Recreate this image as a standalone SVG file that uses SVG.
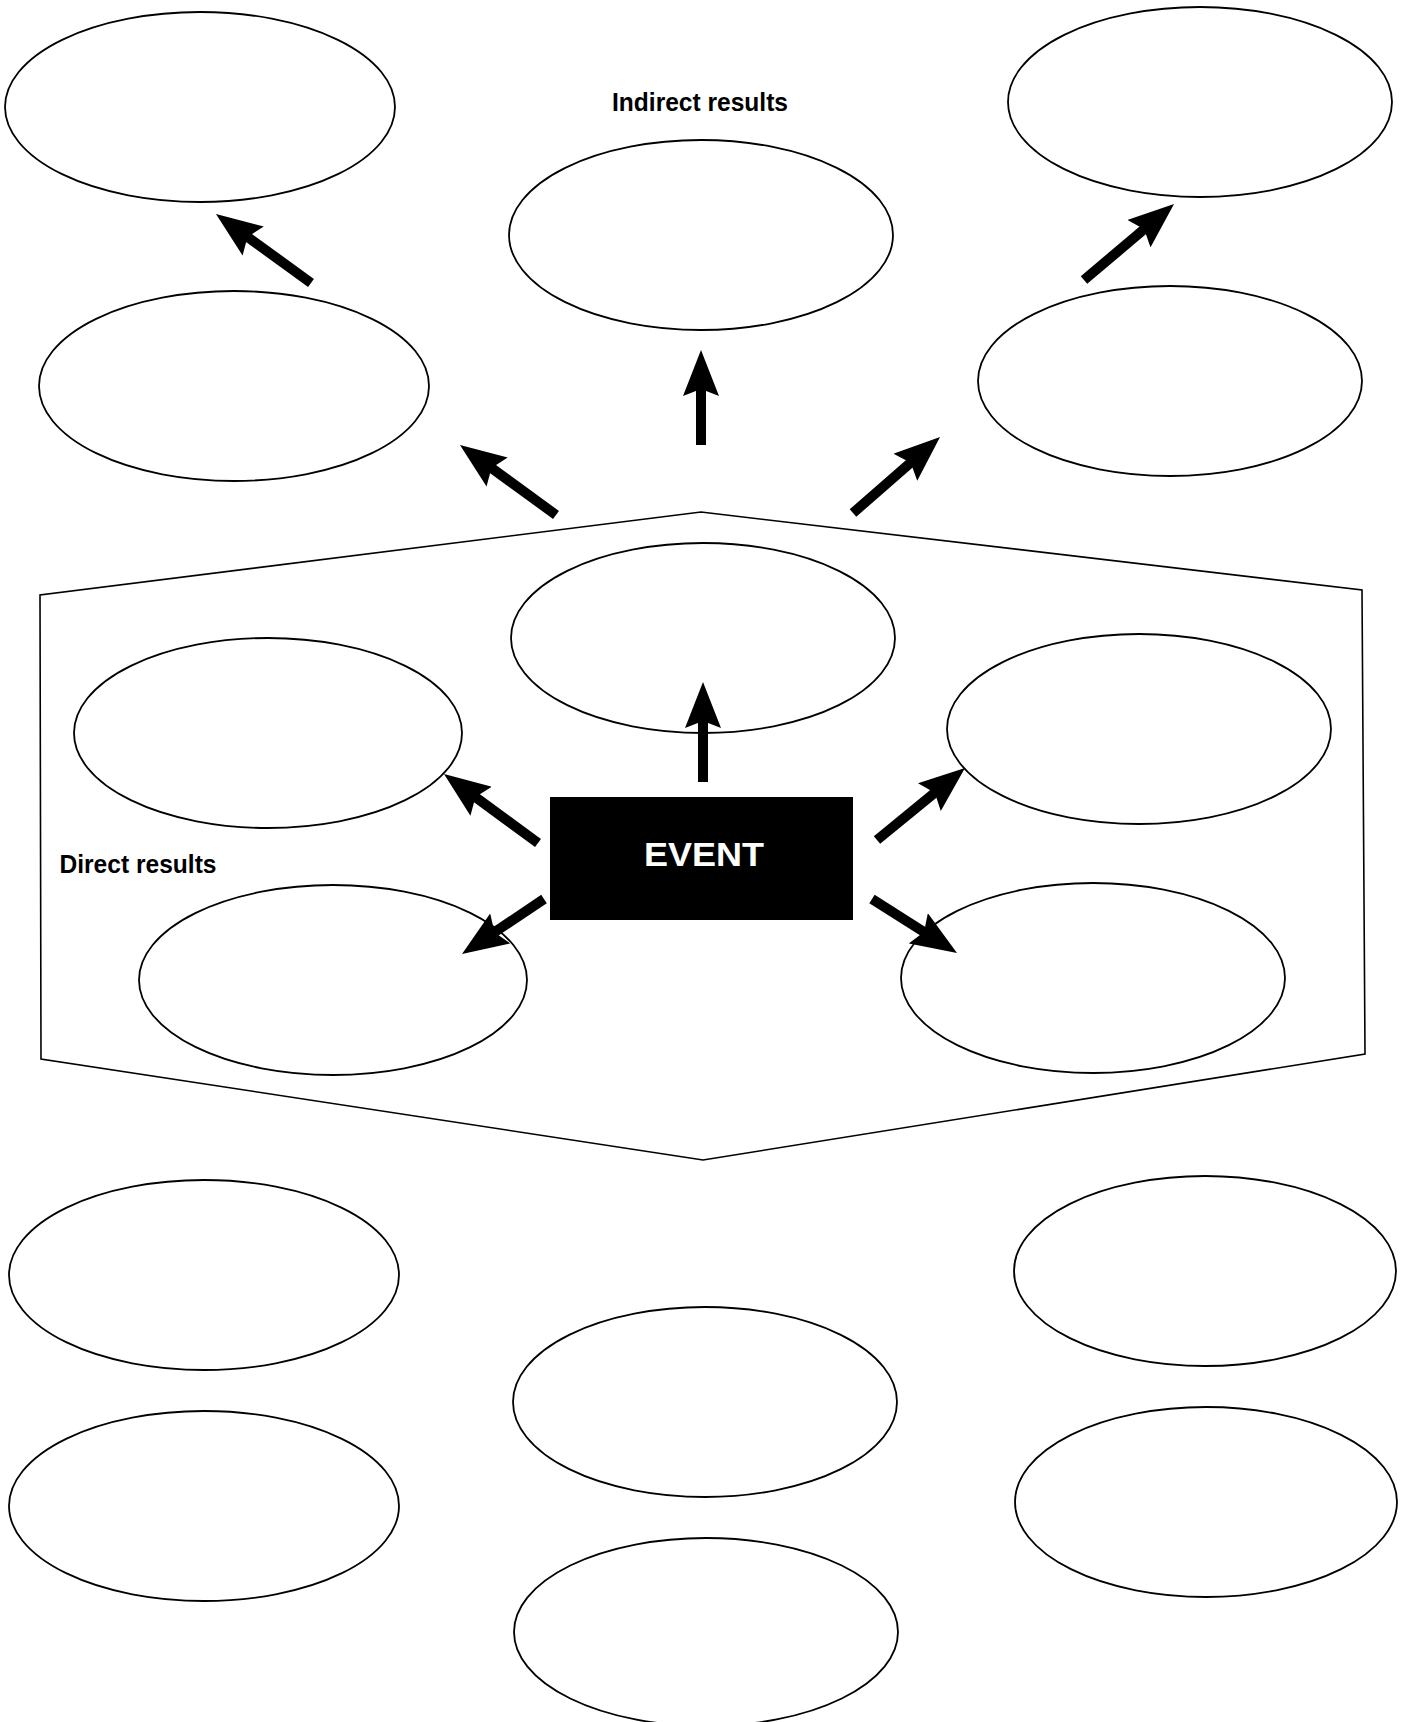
<svg xmlns="http://www.w3.org/2000/svg" width="1405" height="1722" viewBox="0 0 1405 1722">
  <style>
    .bubble { fill: none; stroke: #000; stroke-width: 1.8; }
    .frame { fill: none; stroke: #000; stroke-width: 1.6; stroke-linejoin: miter; }
    .conn { stroke: #000; stroke-width: 10; stroke-linecap: butt; fill: none; marker-end: url(#head); }
    .label { font-family: "Liberation Sans", Arial, sans-serif; font-weight: bold; font-size: 25px; fill: #000; }
    .event-text { font-family: "Liberation Sans", Arial, sans-serif; font-weight: bold; font-size: 33px; fill: #fff; }
  </style>
  <defs>
    <marker id="head" markerUnits="userSpaceOnUse" markerWidth="46" markerHeight="36" viewBox="0 0 46 36" refX="30" refY="18" orient="auto">
      <path d="M46,18 L0,0 L7,18 L0,36 Z" fill="#000"/>
    </marker>
  </defs>

  <rect width="1405" height="1722" fill="#fff"/>

  <g id="direct-frame">
    <polygon class="frame" points="701,512 1362,590 1365,1054 703,1160 41,1059 40,595"/>
  </g>

  <g id="label-indirect">
    <text class="label" x="612" y="111" textLength="176" lengthAdjust="spacingAndGlyphs">Indirect results</text>
  </g>
  <g id="label-direct">
    <text class="label" x="59.5" y="873" textLength="157" lengthAdjust="spacingAndGlyphs">Direct results</text>
  </g>

  <g id="indirect-top-left"><ellipse class="bubble" cx="200" cy="107" rx="195" ry="95"/></g>
  <g id="indirect-top-center"><ellipse class="bubble" cx="701" cy="235" rx="192" ry="95"/></g>
  <g id="indirect-top-right"><ellipse class="bubble" cx="1200" cy="102" rx="192" ry="95"/></g>
  <g id="indirect-left"><ellipse class="bubble" cx="234" cy="386" rx="195" ry="95"/></g>
  <g id="indirect-right"><ellipse class="bubble" cx="1170" cy="381" rx="192" ry="95"/></g>

  <g id="direct-top"><ellipse class="bubble" cx="703" cy="638" rx="192" ry="95"/></g>
  <g id="direct-upper-left"><ellipse class="bubble" cx="268" cy="733" rx="194" ry="95"/></g>
  <g id="direct-upper-right"><ellipse class="bubble" cx="1139" cy="729" rx="192" ry="95"/></g>
  <g id="direct-lower-left"><ellipse class="bubble" cx="333" cy="980" rx="194" ry="95"/></g>
  <g id="direct-lower-right"><ellipse class="bubble" cx="1093" cy="978" rx="192" ry="95"/></g>

  <g id="event">
    <rect x="550" y="797" width="303" height="123" fill="#000"/>
    <text class="event-text" x="644" y="866" textLength="120" lengthAdjust="spacingAndGlyphs">EVENT</text>
  </g>

  <g id="extra-upper-left"><ellipse class="bubble" cx="204" cy="1275" rx="195" ry="95"/></g>
  <g id="extra-upper-right"><ellipse class="bubble" cx="1205" cy="1271" rx="191" ry="95"/></g>
  <g id="extra-center-upper"><ellipse class="bubble" cx="705" cy="1402" rx="192" ry="95"/></g>
  <g id="extra-lower-left"><ellipse class="bubble" cx="204" cy="1506" rx="195" ry="95"/></g>
  <g id="extra-lower-right"><ellipse class="bubble" cx="1206" cy="1502" rx="191" ry="95"/></g>
  <g id="extra-center-lower"><ellipse class="bubble" cx="706" cy="1632" rx="192" ry="94"/></g>

  <g id="connectors">
    <line class="conn" x1="311" y1="283" x2="228.9" y2="223.4"/>
    <line class="conn" x1="556" y1="515" x2="472.9" y2="454.4"/>
    <line class="conn" x1="701" y1="445" x2="701" y2="366"/>
    <line class="conn" x1="853" y1="513" x2="928" y2="447.5"/>
    <line class="conn" x1="1084" y1="280" x2="1161.8" y2="214.3"/>
    <line class="conn" x1="703" y1="782" x2="703" y2="698"/>
    <line class="conn" x1="538" y1="843" x2="456.9" y2="783.5"/>
    <line class="conn" x1="544" y1="899" x2="475.3" y2="945.1"/>
    <line class="conn" x1="877" y1="840" x2="952.6" y2="778.1"/>
    <line class="conn" x1="872" y1="899" x2="943.5" y2="944.4"/>
  </g>
</svg>
